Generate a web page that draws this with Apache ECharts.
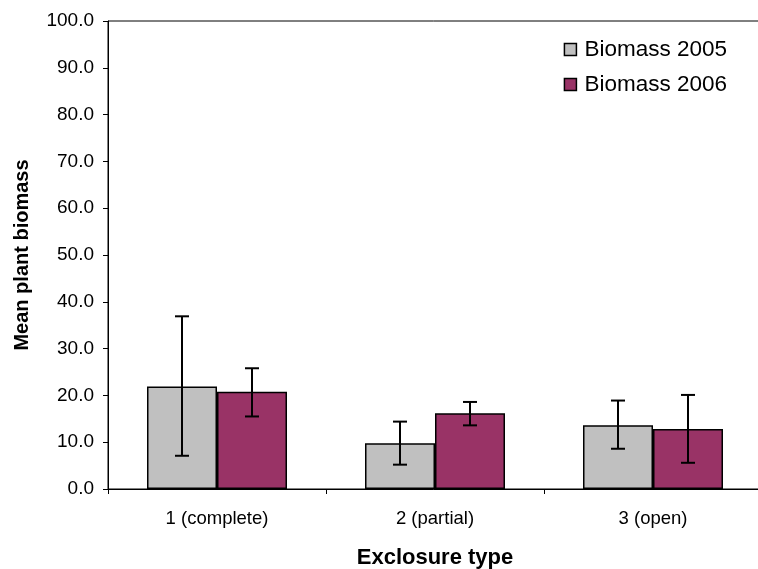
<!DOCTYPE html>
<html>
<head>
<meta charset="utf-8">
<script src="https://cdn.jsdelivr.net/npm/echarts@6/dist/echarts.min.js"></script>
<style>html,body{margin:0;padding:0;background:#fff}#c{width:758px;height:569px}</style>
</head>
<body>
<div id="c"></div>
<script>
var categories = ['1 (complete)', '2 (partial)', '3 (open)'];
var biomass2005 = [21.9, 9.8, 13.6];
var biomass2006 = [20.8, 16.2, 12.8];
var err2005Low = [7.1, 5.2, 8.6];
var err2005High = [36.9, 14.4, 18.9];
var err2006Low = [15.5, 13.6, 5.6];
var err2006High = [25.8, 18.6, 20.1];
var yTicks = [0, 10, 20, 30, 40, 50, 60, 70, 80, 90, 100];

var BAR_W = 70;
function errData(lo, hi) {
  return categories.map(function (c, i) { return [i, lo[i], hi[i]]; });
}
function errSeries(name, lo, hi, side) {
  return {
    type: 'custom',
    name: name + ' err',
    z: 10,
    data: errData(lo, hi),
    encode: { x: 0, y: [1, 2] },
    renderItem: function (params, api) {
      var i = api.value(0);
      var pLo = api.coord([i, api.value(1)]);
      var pHi = api.coord([i, api.value(2)]);
      var x = pLo[0] + side * BAR_W / 2;
      var cap = 7;
      var st = { stroke: '#000', lineWidth: 2 };
      return {
        type: 'group',
        children: [
          { type: 'line', shape: { x1: x, y1: pLo[1], x2: x, y2: pHi[1] }, style: st },
          { type: 'line', shape: { x1: x - cap, y1: pLo[1], x2: x + cap, y2: pLo[1] }, style: st },
          { type: 'line', shape: { x1: x - cap, y1: pHi[1], x2: x + cap, y2: pHi[1] }, style: st }
        ]
      };
    },
    tooltip: { show: false }
  };
}

var chart = echarts.init(document.getElementById('c'), null, { renderer: 'canvas' });
chart.setOption({
  animation: false,
  backgroundColor: '#fff',
  textStyle: { fontFamily: 'Liberation Sans, Arial, sans-serif' },
  grid: {
    left: 108, top: 21, right: -4, bottom: 80,
    containLabel: false, outerBoundsMode: 'none',
    show: true, borderColor: '#000', borderWidth: 1
  },
  legend: {
    orient: 'vertical',
    right: 26,
    top: 33,
    itemWidth: 12,
    itemHeight: 12,
    itemGap: 12,
    icon: 'rect',
    textStyle: { fontSize: 22.5, color: '#000', lineHeight: 22, padding: [0, 0, 0, 3] },
    data: [
      { name: 'Biomass 2005', itemStyle: { color: '#C0C0C0', borderColor: '#000', borderWidth: 1.5 } },
      { name: 'Biomass 2006', itemStyle: { color: '#993366', borderColor: '#000', borderWidth: 1.5 } }
    ]
  },
  xAxis: {
    type: 'category',
    data: categories,
    name: 'Exclosure type',
    nameLocation: 'middle',
    nameGap: 58,
    nameTextStyle: { fontSize: 22, fontWeight: 'bold', color: '#000' },
    axisLine: { lineStyle: { color: '#000', width: 1 } },
    axisTick: { show: true, length: 5, interval: 0, lineStyle: { color: '#000' } },
    axisLabel: { fontSize: 18.5, color: '#000', margin: 20, interval: 0 }
  },
  yAxis: {
    type: 'value',
    min: yTicks[0],
    max: yTicks[yTicks.length - 1],
    interval: 10,
    name: 'Mean plant biomass',
    nameLocation: 'middle',
    nameGap: 76,
    nameTextStyle: { fontSize: 20, fontWeight: 'bold', color: '#000' },
    axisLine: { show: true, lineStyle: { color: '#000', width: 1 } },
    axisTick: { show: true, length: 5, lineStyle: { color: '#000' } },
    axisLabel: { fontSize: 19, color: '#000', margin: 14, formatter: function (v) { return v.toFixed(1); } },
    splitLine: { show: false }
  },
  series: [
    {
      name: 'Biomass 2005', type: 'bar', data: biomass2005, barWidth: BAR_W, barGap: '0%',
      itemStyle: { color: '#C0C0C0', borderColor: '#000', borderWidth: 1.5 }
    },
    {
      name: 'Biomass 2006', type: 'bar', data: biomass2006, barWidth: BAR_W, barGap: '0%',
      itemStyle: { color: '#993366', borderColor: '#000', borderWidth: 1.5 }
    },
    errSeries('Biomass 2005', err2005Low, err2005High, -1),
    errSeries('Biomass 2006', err2006Low, err2006High, 1)
  ]
});
</script>
</body>
</html>
